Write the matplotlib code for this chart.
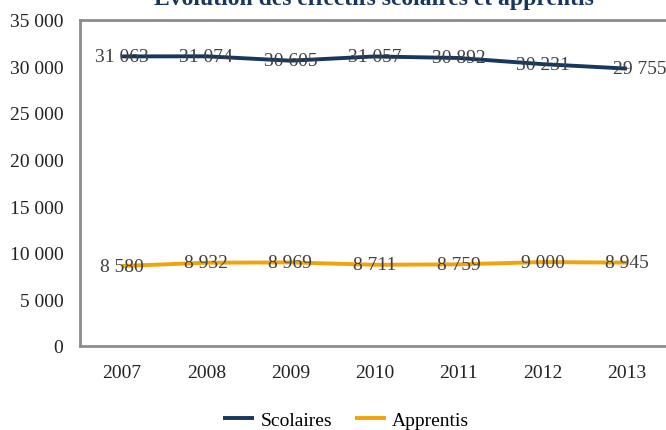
import numpy as np
import matplotlib.pyplot as plt

# données
annees = ['2007', '2008', '2009', '2010', '2011', '2012', '2013']
scolaires = [31063, 31074, 30605, 31057, 30892, 30231, 29755]
apprentis = [8580, 8932, 8969, 8711, 8759, 9000, 8945]

plt.rcParams['font.family'] = ['Liberation Serif', 'DejaVu Serif']

fig = plt.figure(figsize=(6.66, 4.31), dpi=100)
ax = fig.add_axes([80 / 666, 1 - 347 / 431, 589 / 666, 326.3 / 431])

x = np.arange(len(annees))
bleu = '#17375E'
orange = '#F0A30A'
ax.plot(x, scolaires, color=bleu, lw=2.8, label='Scolaires', solid_capstyle='butt')
ax.plot(x, apprentis, color=orange, lw=2.8, label='Apprentis', solid_capstyle='butt')

def fmt(v):
    return f'{v:,}'.replace(',', ' ')

for i, v in enumerate(scolaires):
    dx = 0.15 if i == len(x) - 1 else 0
    ax.text(x[i] + dx, v, fmt(v), ha='center', va='center', fontsize=14, color='#404040')
for i, v in enumerate(apprentis):
    ax.text(x[i], v, fmt(v), ha='center', va='center', fontsize=14, color='#404040')

ax.set_xlim(-0.5, len(x) - 0.5)
ax.set_ylim(0, 35000)
ax.set_xticks(x)
ax.set_xticklabels(annees)
ax.set_yticks(np.arange(0, 35001, 5000))
ax.set_yticklabels([fmt(v) for v in range(0, 35001, 5000)])
ax.tick_params(length=0, labelsize=14, colors='#222222')
ax.tick_params(axis='y', pad=12)
ax.tick_params(axis='x', pad=13)
for s in ax.spines.values():
    s.set_color('#8C8C8C')
    s.set_linewidth(2)

# titre coupé en haut, comme dans l'original
fig.text(374 / 666, 1 - 5 / 431, 'Évolution des effectifs scolaires et apprentis',
         ha='center', va='baseline', fontsize=17, fontweight='bold', color='#17375E')

fig.legend(loc='lower center', bbox_to_anchor=(0.52, -0.038), ncol=2, frameon=False,
           fontsize=14, handlelength=1.6, handletextpad=0.3, columnspacing=1.2)

fig.savefig('out.png', dpi=100)
